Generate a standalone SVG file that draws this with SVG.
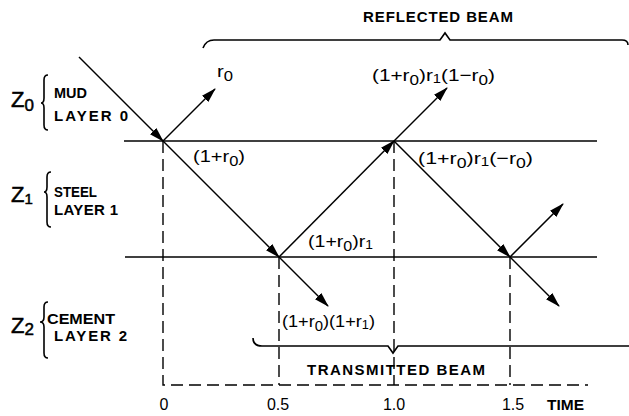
<svg xmlns="http://www.w3.org/2000/svg" width="629" height="416" viewBox="0 0 629 416">
<style>
.ln{stroke:#000;stroke-width:1.6;fill:none}
.ray{stroke:#000;stroke-width:1.5;fill:none;marker-end:url(#ah)}
.dash{stroke:#000;stroke-width:1.4;fill:none;stroke-dasharray:12 6}
.cap{font-family:"Liberation Sans",Arial,sans-serif;font-weight:bold;font-size:15px;fill:#000}
.math{font-family:"Liberation Sans",Arial,sans-serif;font-size:17px;fill:#000}
.z{font-family:"Liberation Sans",Arial,sans-serif;font-size:22px;fill:#000;stroke:#000;stroke-width:0.5}
.tick{font-family:"Liberation Sans",Arial,sans-serif;font-size:16px;fill:#000}
</style>
<defs>
<marker id="ah" markerUnits="userSpaceOnUse" markerWidth="15" markerHeight="9" refX="14" refY="4.5" orient="auto">
<path d="M0,0 L15,4.5 L0,9 Z" fill="#000"/>
</marker>
</defs>
<rect width="629" height="416" fill="#fff"/>

<g id="interfaces">
<line class="ln" x1="124" y1="141" x2="597" y2="141"/>
<line class="ln" x1="125" y1="257" x2="597" y2="257"/>
</g>

<g id="time-axis">
<path class="dash" d="M163,141 V385 H588"/>
<line class="dash" x1="279" y1="257" x2="279" y2="385"/>
<line class="dash" x1="394" y1="141" x2="394" y2="385"/>
<line class="dash" x1="510" y1="257" x2="510" y2="385"/>
<text class="tick" x="164" y="410" text-anchor="middle">0</text>
<text class="tick" x="278" y="410" text-anchor="middle">0.5</text>
<text class="tick" x="394" y="410" text-anchor="middle">1.0</text>
<text class="tick" x="513" y="410" text-anchor="middle">1.5</text>
<text class="cap" x="547" y="410" textLength="37" lengthAdjust="spacingAndGlyphs">TIME</text>
</g>

<g id="connectors">
<line class="ray" x1="79" y1="57" x2="163" y2="141"/>
<line class="ray" x1="163" y1="141" x2="215" y2="89"/>
<line class="ray" x1="163" y1="141" x2="279" y2="257"/>
<line class="ray" x1="279" y1="257" x2="328" y2="306"/>
<line class="ray" x1="279" y1="257" x2="394" y2="141"/>
<line class="ray" x1="394" y1="141" x2="447" y2="88"/>
<line class="ray" x1="394" y1="141" x2="510" y2="257"/>
<line class="ray" x1="510" y1="257" x2="563" y2="204"/>
<line class="ray" x1="510" y1="257" x2="559" y2="306"/>
</g>

<g id="ray-labels">
<text class="math" x="217" y="77" textLength="16" lengthAdjust="spacingAndGlyphs">r<tspan dy="4" font-size="14">0</tspan></text>
<text class="math" x="193" y="162" textLength="52" lengthAdjust="spacingAndGlyphs">(1+r<tspan dy="4" font-size="14">0</tspan><tspan dy="-4">)</tspan></text>
<text class="math" x="308" y="247" textLength="65" lengthAdjust="spacingAndGlyphs">(1+r<tspan dy="4" font-size="14">0</tspan><tspan dy="-4">)r</tspan><tspan dy="2" font-size="12">1</tspan></text>
<text class="math" x="282" y="327" textLength="93" lengthAdjust="spacingAndGlyphs">(1+r<tspan dy="4" font-size="14">0</tspan><tspan dy="-4">)(1+r</tspan><tspan dy="2" font-size="12">1</tspan><tspan dy="-2">)</tspan></text>
<text class="math" x="372" y="81" textLength="123" lengthAdjust="spacingAndGlyphs">(1+r<tspan dy="4" font-size="14">0</tspan><tspan dy="-4">)r</tspan><tspan dy="2" font-size="12">1</tspan><tspan dy="-2">(1−r</tspan><tspan dy="4" font-size="14">0</tspan><tspan dy="-4">)</tspan></text>
<text class="math" x="418" y="164" textLength="115" lengthAdjust="spacingAndGlyphs">(1+r<tspan dy="4" font-size="14">0</tspan><tspan dy="-4">)r</tspan><tspan dy="2" font-size="12">1</tspan><tspan dy="-2">(−r</tspan><tspan dy="4" font-size="14">0</tspan><tspan dy="-4">)</tspan></text>
</g>

<g id="reflected-beam">
<path class="ln" d="M203,48 Q206,40 214,40 L440,40 L445,33 L450,40 L622,40 Q628,40 628,45"/>
<text class="cap" x="363" y="22" textLength="150" lengthAdjust="spacing">REFLECTED  BEAM</text>
</g>

<g id="transmitted-beam">
<path class="ln" d="M253,338 Q253,346 262,346 L388,346 L393,353 L398,346 L629,346"/>
<text class="cap" x="307" y="375" textLength="178" lengthAdjust="spacing">TRANSMITTED BEAM</text>
</g>

<g id="layer0">
<text class="z" x="11" y="107">Z<tspan dy="4" font-size="17">0</tspan></text>
<path class="ln" d="M48,75 Q44,75 44,80 L44,98 Q44,103 41,103 Q44,103 44,108 L44,125 Q44,130 48,130"/>
<text class="cap" x="54" y="98" textLength="33" lengthAdjust="spacingAndGlyphs">MUD</text>
<text class="cap" x="54" y="121" textLength="74" lengthAdjust="spacing">LAYER 0</text>
</g>

<g id="layer1">
<text class="z" x="11" y="202">Z<tspan dy="2" font-size="15">1</tspan></text>
<path class="ln" d="M51,172 Q47,172 47,177 L47,187 Q47,192 44,192 Q47,192 47,197 L47,222 Q47,227 51,227"/>
<text class="cap" x="54" y="197" textLength="43" lengthAdjust="spacingAndGlyphs">STEEL</text>
<text class="cap" x="54" y="215" textLength="64" lengthAdjust="spacing">LAYER 1</text>
</g>

<g id="layer2">
<text class="z" x="11" y="333">Z<tspan dy="2" font-size="17">2</tspan></text>
<path class="ln" d="M48,302 Q44,302 44,307 L44,317 Q44,322 40,322 Q44,322 44,327 L44,353 Q44,358 48,358"/>
<text class="cap" x="47" y="324" textLength="68" lengthAdjust="spacingAndGlyphs">CEMENT</text>
<text class="cap" x="54" y="341" textLength="73" lengthAdjust="spacing">LAYER 2</text>
</g>
</svg>
